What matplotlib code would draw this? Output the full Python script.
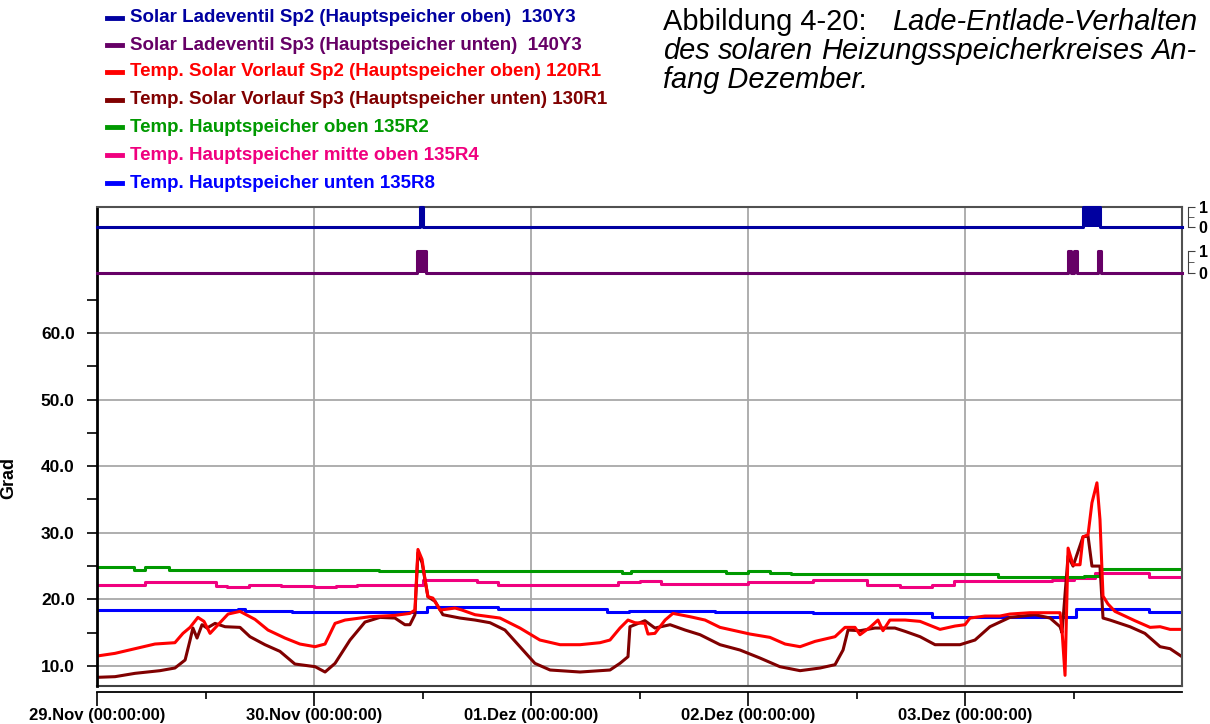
import matplotlib.pyplot as plt
from matplotlib.lines import Line2D
from matplotlib.ticker import FixedLocator

plt.rcParams['font.family'] = ['Liberation Sans', 'DejaVu Sans']

# Zeit in Tagen ab 29.Nov 00:00
day_ticks = [0, 1, 2, 3, 4]
day_labels = ['29.Nov (00:00:00)', '30.Nov (00:00:00)', '01.Dez (00:00:00)',
              '02.Dez (00:00:00)', '03.Dez (00:00:00)']
y_ticks = [10, 20, 30, 40, 50, 60]

names = ['Solar Ladeventil Sp2 (Hauptspeicher oben)  130Y3',
         'Solar Ladeventil Sp3 (Hauptspeicher unten)  140Y3',
         'Temp. Solar Vorlauf Sp2 (Hauptspeicher oben) 120R1',
         'Temp. Solar Vorlauf Sp3 (Hauptspeicher unten) 130R1',
         'Temp. Hauptspeicher oben 135R2',
         'Temp. Hauptspeicher mitte oben 135R4',
         'Temp. Hauptspeicher unten 135R8']
colors = ['#0000A0', '#660066', '#FF0000', '#800000', '#009900', '#F0007F', '#0000FF']

# Ventile (0/1)
sp2_t = [0, 1.488, 1.502, 4.544, 4.622, 5.0]
sp2_v = [0, 1, 0, 1, 0, 0]
sp3_t = [0, 1.475, 1.516, 4.475, 4.488, 4.502, 4.516, 4.613, 4.627, 5.0]
sp3_v = [0, 1, 0, 1, 0, 1, 0, 1, 0, 0]

# 120R1
r1_t = [0.0, 0.083, 0.175, 0.267, 0.359, 0.396, 0.429, 0.465, 0.493, 0.521, 0.558, 0.604,
        0.659, 0.728, 0.788, 0.866, 0.935, 1.005, 1.051, 1.097, 1.143, 1.258, 1.373, 1.442,
        1.465, 1.479, 1.498, 1.512, 1.525, 1.548, 1.581, 1.650, 1.682, 1.742, 1.857, 1.949,
        2.041, 2.134, 2.226, 2.318, 2.364, 2.410, 2.447, 2.479, 2.525, 2.539, 2.571, 2.618,
        2.654, 2.733, 2.802, 2.871, 3.009, 3.101, 3.171, 3.240, 3.309, 3.401, 3.447, 3.493,
        3.516, 3.562, 3.599, 3.622, 3.654, 3.724, 3.793, 3.885, 3.954, 4.000, 4.023, 4.092,
        4.161, 4.207, 4.300, 4.438, 4.447, 4.461, 4.475, 4.498, 4.530, 4.544, 4.567, 4.585,
        4.608, 4.622, 4.636, 4.659, 4.691, 4.783, 4.853, 4.899, 4.945, 5.0]
r1_v = [11.5, 11.9, 12.6, 13.3, 13.5, 14.9, 15.8, 17.3, 16.7, 14.9, 16.2, 17.8,
        18.2, 17.0, 15.4, 14.2, 13.3, 12.9, 13.3, 16.4, 16.9, 17.4, 17.6, 17.9,
        18.4, 27.5, 26.0, 22.9, 20.4, 20.2, 18.4, 18.7, 18.4, 17.7, 17.2, 15.7,
        13.9, 13.2, 13.2, 13.5, 13.9, 15.7, 16.9, 16.5, 16.4, 14.8, 14.9, 16.9,
        17.9, 17.4, 16.9, 15.8, 14.8, 14.3, 13.3, 12.9, 13.7, 14.4, 15.8, 15.8,
        14.7, 15.8, 16.9, 15.3, 16.9, 16.9, 16.7, 15.5, 16.0, 16.2, 17.2, 17.5,
        17.5, 17.8, 18.0, 18.0, 15.4, 8.6, 27.7, 25.2, 25.2, 29.4, 29.7, 34.5,
        37.5, 32.0, 20.5, 19.3, 18.2, 16.8, 15.8, 15.9, 15.5, 15.5]

# 130R1
r3_t = [0.0, 0.083, 0.175, 0.290, 0.359, 0.406, 0.429, 0.442, 0.461, 0.484, 0.507, 0.544,
        0.590, 0.659, 0.705, 0.774, 0.843, 0.912, 1.005, 1.051, 1.097, 1.166, 1.235, 1.304,
        1.373, 1.419, 1.442, 1.465, 1.479, 1.498, 1.525, 1.558, 1.594, 1.673, 1.742, 1.811,
        1.880, 1.949, 2.018, 2.088, 2.226, 2.364, 2.410, 2.447, 2.456, 2.502, 2.525, 2.571,
        2.641, 2.710, 2.779, 2.871, 2.963, 3.055, 3.147, 3.240, 3.332, 3.401, 3.438, 3.461,
        3.516, 3.585, 3.677, 3.724, 3.793, 3.862, 3.977, 4.046, 4.115, 4.207, 4.323, 4.392,
        4.438, 4.447, 4.475, 4.498, 4.544, 4.567, 4.585, 4.622, 4.636, 4.668, 4.760, 4.829,
        4.899, 4.945, 5.0]
r3_v = [8.3, 8.4, 8.9, 9.3, 9.7, 10.9, 13.9, 15.7, 14.2, 16.2, 15.7, 16.4,
        15.9, 15.8, 14.4, 13.2, 12.2, 10.3, 9.9, 9.1, 10.4, 13.9, 16.6, 17.3,
        17.2, 16.2, 16.2, 17.7, 27.0, 25.5, 20.4, 19.7, 17.7, 17.2, 16.9, 16.5,
        15.4, 12.9, 10.4, 9.4, 9.1, 9.4, 10.4, 11.4, 15.9, 16.5, 16.8, 15.7,
        16.2, 15.4, 14.7, 13.2, 12.4, 11.2, 9.9, 9.3, 9.7, 10.2, 12.4, 15.4,
        15.3, 15.7, 15.7, 15.2, 14.4, 13.2, 13.2, 13.9, 15.9, 17.3, 17.7, 17.2,
        15.9, 15.0, 26.5, 25.0, 29.4, 29.5, 25.0, 25.0, 17.2, 16.9, 15.9, 14.9,
        12.9, 12.6, 11.4]

# 135R2
r2_t = [0.0, 0.15, 0.17, 0.22, 0.30, 0.33, 1.20, 1.30, 2.40, 2.42, 2.46, 2.80, 2.90,
        3.00, 3.10, 3.20, 4.10, 4.15, 4.55, 4.62, 5.0]
r2_v = [24.9, 24.9, 24.4, 24.9, 24.9, 24.4, 24.4, 24.2, 24.2, 23.9, 24.2, 24.3, 24.0,
        24.2, 24.0, 23.8, 23.8, 23.4, 23.5, 24.5, 24.5]

# 135R4
r4_t = [0.0, 0.20, 0.22, 0.50, 0.55, 0.60, 0.70, 0.85, 1.00, 1.10, 1.20, 1.40, 1.50,
        1.70, 1.75, 1.85, 2.10, 2.40, 2.50, 2.60, 2.80, 3.00, 3.30, 3.45, 3.55, 3.70,
        3.75, 3.85, 3.95, 4.40, 4.50, 4.60, 4.80, 4.85, 5.0]
r4_v = [22.2, 22.2, 22.6, 22.6, 22.0, 21.9, 22.2, 22.0, 21.9, 22.0, 22.2, 22.2, 22.9,
        22.9, 22.6, 22.2, 22.2, 22.6, 22.7, 22.3, 22.3, 22.6, 22.9, 22.9, 22.2, 21.9,
        21.8, 22.2, 22.7, 22.9, 23.2, 24.0, 24.0, 23.4, 23.4]

# 135R8
r8_t = [0.0, 0.65, 0.68, 0.85, 0.90, 1.50, 1.52, 1.80, 1.85, 2.30, 2.35, 2.45, 2.80,
        2.85, 3.20, 3.30, 3.80, 3.85, 4.45, 4.51, 4.80, 4.85, 5.0]
r8_v = [18.4, 18.5, 18.3, 18.3, 18.1, 18.1, 18.9, 18.9, 18.5, 18.5, 18.1, 18.3, 18.3,
        18.1, 18.1, 17.9, 17.9, 17.4, 17.4, 18.5, 18.5, 18.1, 18.1]

W, H = 1210, 724
def px(x, y):
    return x / W, 1 - y / H

fig = plt.figure(figsize=(12.1, 7.24), dpi=100)

# Ventilspuren oben
def valve_axes(y0, y1, t, v, c):
    a = fig.add_axes([97 / W, 1 - y0 / H, 1085 / W, (y0 - y1) / H])
    a.patch.set_visible(False)
    a.set_xlim(0, 5)
    a.set_ylim(0, 1)
    a.fill_between(t, v, step='post', color=c, lw=0)
    a.plot(t, v, color=c, lw=2.2, drawstyle='steps-post', clip_on=False)
    for s in ['top', 'left', 'bottom']:
        a.spines[s].set_visible(False)
    a.spines['right'].set_position(('outward', 4))
    a.spines['right'].set_bounds(0, 1)
    a.spines['right'].set_color('#404040')
    a.set_xticks([])
    a.yaxis.tick_right()
    a.set_yticks([0, 1])
    a.set_yticklabels(['0', '1'], fontsize=11.5, fontweight='bold')
    a.yaxis.set_minor_locator(FixedLocator([0.5]))
    a.tick_params(axis='y', which='major', length=5, pad=3, colors='#404040', labelcolor='black')
    a.tick_params(axis='y', which='minor', length=4, colors='#404040')
    return a

# Hauptdiagramm
ax = fig.add_axes([97 / W, 1 - 686 / H, 1085 / W, 479 / H])
ax.spines['left'].set_linewidth(2)
ax.spines['bottom'].set_position(('outward', 4))
ax.spines['bottom'].set_linewidth(1.3)
for s in ['top', 'right']:
    ax.spines[s].set_color('#505050')
    ax.spines[s].set_linewidth(1.5)
ax.set_xlim(0, 5)
ax.set_ylim(7.0, 78.9)
lw = 2.2
ax.plot(r8_t, r8_v, color=colors[6], lw=lw, drawstyle='steps-post')
ax.plot(r4_t, r4_v, color=colors[5], lw=lw, drawstyle='steps-post')
ax.plot(r2_t, r2_v, color=colors[4], lw=lw, drawstyle='steps-post')
ax.plot(r3_t, r3_v, color=colors[3], lw=lw)
ax.plot(r1_t, r1_v, color=colors[2], lw=lw)
ax.plot([0, 1], [0, 0], transform=ax.transAxes, color='#404040', lw=1.5, clip_on=False)

ax.set_xticks(day_ticks, day_labels, fontsize=12, fontweight='bold')
ax.xaxis.set_minor_locator(FixedLocator([0.5, 1.5, 2.5, 3.5, 4.5]))
ax.set_yticks(y_ticks, ['%.1f' % v for v in y_ticks], fontsize=12.5, fontweight='bold')
ax.yaxis.set_minor_locator(FixedLocator([15, 25, 35, 45, 55, 65]))
ax.tick_params(axis='y', which='major', length=7, width=1.2, pad=9)
ax.tick_params(axis='y', which='minor', length=7, width=1.2)
ax.tick_params(axis='x', which='major', length=10, width=1.2, pad=2)
ax.tick_params(axis='x', which='minor', length=5, width=1.2)
ax.grid(True, which='major', color='#A8A8A8', lw=1.3)
ax.set_axisbelow(True)
ax.set_ylabel('Grad', fontsize=13, fontweight='bold')
ax.yaxis.set_label_coords(-0.0737, 0.434)

valve_axes(227, 207, sp2_t, sp2_v, colors[0])
valve_axes(273, 251, sp3_t, sp3_v, colors[1])

# Legende
leg_y = [18, 45, 72, 100, 127, 155, 183]
for name, c, y in zip(names, colors, leg_y):
    fig.add_artist(Line2D([107 / W, 122 / W], [1 - y / H, 1 - y / H], color=c, lw=3.5))
    fig.text(*px(130, y), name, color=c, fontsize=13.5, fontweight='bold', va='center')

# Bildunterschrift (Blocksatz)
r = fig.canvas.get_renderer()
cap_fs = 20.9

def justify(words, y, x0=663, x1=1197, **kw):
    texts = [fig.text(0, 0, w, va='center', fontsize=cap_fs, **kw) for w in words]
    widths = [t.get_window_extent(r).width for t in texts]
    gap = (x1 - x0 - sum(widths)) / (len(words) - 1)
    x = x0
    for t, w in zip(texts, widths):
        t.set_position(px(x, y))
        x += w + gap

fig.text(*px(663, 22), 'Abbildung 4-20:', fontsize=cap_fs, va='center')
fig.text(*px(1197, 22), 'Lade-Entlade-Verhalten', fontsize=cap_fs, style='italic',
         va='center', ha='right')
justify('des solaren Heizungsspeicherkreises An-'.split(), 51, style='italic')
fig.text(*px(663, 80), 'fang Dezember.', fontsize=cap_fs, style='italic', va='center')

fig.savefig('out.png', dpi=100)
